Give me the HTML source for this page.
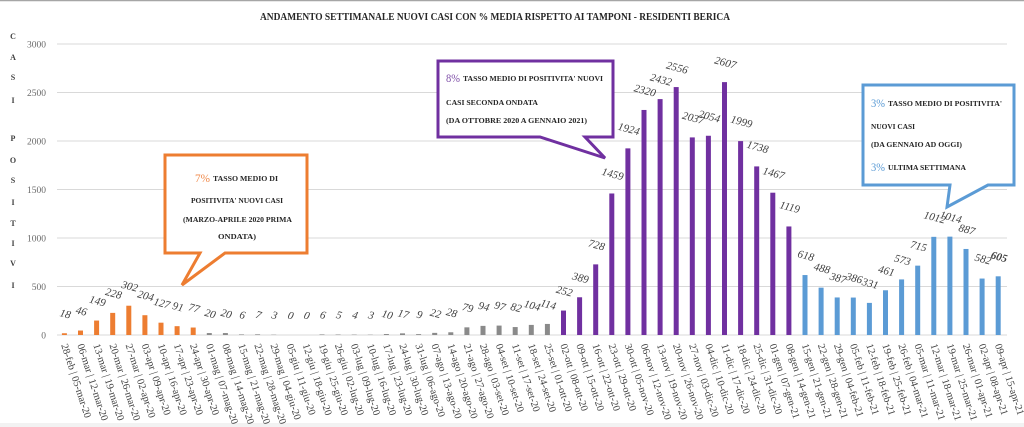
<!DOCTYPE html>
<html><head><meta charset="utf-8"><style>
html,body{margin:0;padding:0;background:#fff;}
svg{display:block;}
.t{font-family:"Liberation Serif",serif;}
.dl{font-family:"Liberation Serif",serif;font-size:11px;fill:#404040;font-style:italic;text-anchor:middle;}
.xl{font-family:"Liberation Serif",serif;font-size:10.3px;fill:#404040;}
.yl{font-family:"Liberation Serif",serif;font-size:9.5px;fill:#6b6b6b;text-anchor:end;}
.ya{font-family:"Liberation Serif",serif;font-size:8px;font-weight:bold;fill:#404040;text-anchor:middle;}
.cb{font-family:"Liberation Serif",serif;font-size:7.5px;font-weight:bold;fill:#262626;}
.pc{font-family:"Liberation Serif",serif;font-size:12px;}
</style></head><body>
<svg width="1024" height="427" viewBox="0 0 1024 427" xmlns="http://www.w3.org/2000/svg">
<rect x="0" y="0" width="1024" height="427" fill="#fff"/>
<line x1="0" y1="0.5" x2="1024" y2="0.5" stroke="#a6a6a6" stroke-width="1.5"/>
<rect x="0" y="423" width="1024" height="4" fill="#f2f2f2"/>

<text class="t" x="260" y="20" font-size="10.5" font-weight="bold" fill="#262626" textLength="470" lengthAdjust="spacingAndGlyphs">ANDAMENTO SETTIMANALE NUOVI CASI CON % MEDIA RISPETTO AI TAMPONI - RESIDENTI BERICA</text>

<!-- gridlines -->
<g stroke="#d9d9d9" stroke-width="1">
<line x1="57" y1="44" x2="1007" y2="44"/>
<line x1="57" y1="92.5" x2="1007" y2="92.5"/>
<line x1="57" y1="141" x2="1007" y2="141"/>
<line x1="57" y1="189.5" x2="1007" y2="189.5"/>
<line x1="57" y1="238" x2="1007" y2="238"/>
<line x1="57" y1="286.5" x2="1007" y2="286.5"/>
<line x1="57" y1="335" x2="1007" y2="335"/>
</g>
<g class="yl">
<text x="46" y="47.5" class="yl">3000</text>
<text x="46" y="96" class="yl">2500</text>
<text x="46" y="144.5" class="yl">2000</text>
<text x="46" y="193" class="yl">1500</text>
<text x="46" y="241.5" class="yl">1000</text>
<text x="46" y="290" class="yl">500</text>
<text x="46" y="338.5" class="yl">0</text>
</g>
<g class="ya">
<text x="13" y="39" class="ya">C</text>
<text x="13" y="60" class="ya">A</text>
<text x="13" y="80" class="ya">S</text>
<text x="13" y="103" class="ya">I</text>
<text x="13" y="141" class="ya">P</text>
<text x="13" y="163" class="ya">O</text>
<text x="13" y="183" class="ya">S</text>
<text x="13" y="205" class="ya">I</text>
<text x="13" y="226" class="ya">T</text>
<text x="13" y="246" class="ya">I</text>
<text x="13" y="266" class="ya">V</text>
<text x="13" y="288" class="ya">I</text>
</g>

<!-- bars -->
<g fill="#ED7D31">
<rect x="61.9" y="333.25" width="5" height="1.75"/>
<rect x="78.0" y="330.54" width="5" height="4.46"/>
<rect x="94.1" y="320.55" width="5" height="14.45"/>
<rect x="110.2" y="312.88" width="5" height="22.12"/>
<rect x="126.3" y="305.71" width="5" height="29.29"/>
<rect x="142.4" y="315.21" width="5" height="19.79"/>
<rect x="158.5" y="322.68" width="5" height="12.32"/>
<rect x="174.6" y="326.17" width="5" height="8.83"/>
<rect x="190.7" y="327.53" width="5" height="7.47"/>
</g>
<g fill="#8a8a8a">
<rect x="206.8" y="333.06" width="5" height="1.94"/>
<rect x="222.9" y="333.06" width="5" height="1.94"/>
<rect x="239.0" y="334.42" width="5" height="0.58"/>
<rect x="255.1" y="334.32" width="5" height="0.68"/>
<rect x="271.2" y="334.71" width="5" height="0.29"/>
<rect x="319.5" y="334.42" width="5" height="0.58"/>
<rect x="335.6" y="334.51" width="5" height="0.49"/>
<rect x="351.7" y="334.61" width="5" height="0.39"/>
<rect x="367.8" y="334.71" width="5" height="0.29"/>
<rect x="383.9" y="334.03" width="5" height="0.97"/>
<rect x="400.0" y="333.35" width="5" height="1.65"/>
<rect x="416.1" y="334.13" width="5" height="0.87"/>
<rect x="432.2" y="332.87" width="5" height="2.13"/>
<rect x="448.3" y="332.28" width="5" height="2.72"/>
<rect x="464.4" y="327.34" width="5" height="7.66"/>
<rect x="480.5" y="325.88" width="5" height="9.12"/>
<rect x="496.6" y="325.59" width="5" height="9.41"/>
<rect x="512.7" y="327.05" width="5" height="7.95"/>
<rect x="528.8" y="324.91" width="5" height="10.09"/>
<rect x="544.9" y="323.94" width="5" height="11.06"/>
</g>
<g fill="#7030A0">
<rect x="561.0" y="310.56" width="5" height="24.44"/>
<rect x="577.1" y="297.27" width="5" height="37.73"/>
<rect x="593.2" y="264.38" width="5" height="70.62"/>
<rect x="609.3" y="193.48" width="5" height="141.52"/>
<rect x="625.4" y="148.37" width="5" height="186.63"/>
<rect x="641.5" y="109.96" width="5" height="225.04"/>
<rect x="657.6" y="99.10" width="5" height="235.90"/>
<rect x="673.7" y="87.07" width="5" height="247.93"/>
<rect x="689.8" y="137.41" width="5" height="197.59"/>
<rect x="705.9" y="135.76" width="5" height="199.24"/>
<rect x="722.0" y="82.12" width="5" height="252.88"/>
<rect x="738.1" y="141.10" width="5" height="193.90"/>
<rect x="754.2" y="166.41" width="5" height="168.59"/>
<rect x="770.3" y="192.70" width="5" height="142.30"/>
<rect x="786.4" y="226.46" width="5" height="108.54"/>
</g>
<g fill="#5B9BD5">
<rect x="802.5" y="275.05" width="5" height="59.95"/>
<rect x="818.6" y="287.66" width="5" height="47.34"/>
<rect x="834.7" y="297.46" width="5" height="37.54"/>
<rect x="850.8" y="297.56" width="5" height="37.44"/>
<rect x="866.9" y="302.89" width="5" height="32.11"/>
<rect x="883.0" y="290.28" width="5" height="44.72"/>
<rect x="899.1" y="279.42" width="5" height="55.58"/>
<rect x="915.2" y="265.64" width="5" height="69.36"/>
<rect x="931.3" y="236.84" width="5" height="98.16"/>
<rect x="947.4" y="236.64" width="5" height="98.36"/>
<rect x="963.5" y="248.96" width="5" height="86.04"/>
<rect x="979.6" y="278.55" width="5" height="56.45"/>
<rect x="995.7" y="276.31" width="5" height="58.69"/>
</g>

<!-- data labels -->
<g>
<text class="dl" transform="translate(64.4 317.3) rotate(15)">18</text>
<text class="dl" transform="translate(80.5 314.5) rotate(15)">46</text>
<text class="dl" transform="translate(96.6 304.5) rotate(15)">149</text>
<text class="dl" transform="translate(112.7 296.9) rotate(15)">228</text>
<text class="dl" transform="translate(128.8 289.7) rotate(15)">302</text>
<text class="dl" transform="translate(144.9 299.2) rotate(15)">204</text>
<text class="dl" transform="translate(161.0 306.7) rotate(15)">127</text>
<text class="dl" transform="translate(177.1 310.2) rotate(15)">91</text>
<text class="dl" transform="translate(193.2 311.5) rotate(15)">77</text>
<text class="dl" transform="translate(209.3 317.1) rotate(15)">20</text>
<text class="dl" transform="translate(225.4 317.1) rotate(15)">20</text>
<text class="dl" transform="translate(241.5 318.4) rotate(15)">6</text>
<text class="dl" transform="translate(257.6 318.3) rotate(15)">7</text>
<text class="dl" transform="translate(273.7 318.7) rotate(15)">3</text>
<text class="dl" transform="translate(289.8 319) rotate(15)">0</text>
<text class="dl" transform="translate(305.9 319) rotate(15)">0</text>
<text class="dl" transform="translate(322.0 318.4) rotate(15)">6</text>
<text class="dl" transform="translate(338.1 318.5) rotate(15)">5</text>
<text class="dl" transform="translate(354.2 318.6) rotate(15)">4</text>
<text class="dl" transform="translate(370.3 318.7) rotate(15)">3</text>
<text class="dl" transform="translate(386.4 318) rotate(15)">10</text>
<text class="dl" transform="translate(402.5 317.4) rotate(15)">17</text>
<text class="dl" transform="translate(418.6 318.1) rotate(15)">9</text>
<text class="dl" transform="translate(434.7 316.9) rotate(15)">22</text>
<text class="dl" transform="translate(450.8 316.3) rotate(15)">28</text>
<text class="dl" transform="translate(466.9 311.3) rotate(15)">79</text>
<text class="dl" transform="translate(483.0 309.9) rotate(15)">94</text>
<text class="dl" transform="translate(499.1 309.6) rotate(15)">97</text>
<text class="dl" transform="translate(515.2 311) rotate(15)">82</text>
<text class="dl" transform="translate(531.3 308.9) rotate(15)">104</text>
<text class="dl" transform="translate(547.4 307.9) rotate(15)">114</text>
<text class="dl" transform="translate(563.5 294.6) rotate(15)">252</text>
<text class="dl" transform="translate(579.6 281.3) rotate(15)">389</text>
<text class="dl" transform="translate(595.7 248.4) rotate(15)">728</text>
<text class="dl" transform="translate(611.8 177.5) rotate(15)">1459</text>
<text class="dl" transform="translate(627.9 132.4) rotate(15)">1924</text>
<text class="dl" transform="translate(644.0 94) rotate(15)">2320</text>
<text class="dl" transform="translate(660.1 83.1) rotate(15)">2432</text>
<text class="dl" transform="translate(676.2 71.1) rotate(15)">2556</text>
<text class="dl" transform="translate(692.3 121.4) rotate(15)">2037</text>
<text class="dl" transform="translate(708.4 119.8) rotate(15)">2054</text>
<text class="dl" transform="translate(724.5 66.1) rotate(15)">2607</text>
<text class="dl" transform="translate(740.6 125.1) rotate(15)">1999</text>
<text class="dl" transform="translate(756.7 150.4) rotate(15)">1738</text>
<text class="dl" transform="translate(772.8 176.7) rotate(15)">1467</text>
<text class="dl" transform="translate(788.9 210.5) rotate(15)">1119</text>
<text class="dl" transform="translate(805.0 259) rotate(15)">618</text>
<text class="dl" transform="translate(821.1 271.7) rotate(15)">488</text>
<text class="dl" transform="translate(837.2 281.5) rotate(15)">387</text>
<text class="dl" transform="translate(853.3 281.6) rotate(15)">386</text>
<text class="dl" transform="translate(869.4 286.9) rotate(15)">331</text>
<text class="dl" transform="translate(885.5 274.3) rotate(15)">461</text>
<text class="dl" transform="translate(901.6 263.4) rotate(15)">573</text>
<text class="dl" transform="translate(917.7 249.6) rotate(15)">715</text>
<text class="dl" transform="translate(933.8 220.8) rotate(15)">1012</text>
<text class="dl" transform="translate(949.9 220.6) rotate(15)">1014</text>
<text class="dl" transform="translate(966.0 233) rotate(15)">887</text>
<text class="dl" transform="translate(982.1 262.5) rotate(15)">582</text>
<text class="dl" transform="translate(998.2 260.3) rotate(15)" font-weight="bold" font-style="normal">605</text>
</g>

<!-- x labels -->
<g class="xl">
<text class="xl" transform="translate(61.1 345) rotate(72)">28-feb | 05-mar-20</text>
<text class="xl" transform="translate(77.2 345) rotate(72)">06-mar | 12-mar-20</text>
<text class="xl" transform="translate(93.3 345) rotate(72)">13-mar | 19-mar-20</text>
<text class="xl" transform="translate(109.4 345) rotate(72)">20-mar | 26-mar-20</text>
<text class="xl" transform="translate(125.5 345) rotate(72)">27-mar | 02-apr-20</text>
<text class="xl" transform="translate(141.6 345) rotate(72)">03-apr | 09-apr-20</text>
<text class="xl" transform="translate(157.7 345) rotate(72)">10-apr | 16-apr-20</text>
<text class="xl" transform="translate(173.8 345) rotate(72)">17-apr | 23-apr-20</text>
<text class="xl" transform="translate(189.9 345) rotate(72)">24-apr | 30-apr-20</text>
<text class="xl" transform="translate(206.0 345) rotate(72)">01-mag | 07-mag-20</text>
<text class="xl" transform="translate(222.1 345) rotate(72)">08-mag | 14-mag-20</text>
<text class="xl" transform="translate(238.2 345) rotate(72)">15-mag | 21-mag-20</text>
<text class="xl" transform="translate(254.3 345) rotate(72)">22-mag | 28-mag-20</text>
<text class="xl" transform="translate(270.4 345) rotate(72)">29-mag | 04-giu-20</text>
<text class="xl" transform="translate(286.5 345) rotate(72)">05-giu | 11-giu-20</text>
<text class="xl" transform="translate(302.6 345) rotate(72)">12-giu | 18-giu-20</text>
<text class="xl" transform="translate(318.7 345) rotate(72)">19-giu | 25-giu-20</text>
<text class="xl" transform="translate(334.8 345) rotate(72)">26-giu | 02-lug-20</text>
<text class="xl" transform="translate(350.9 345) rotate(72)">03-lug | 09-lug-20</text>
<text class="xl" transform="translate(367.0 345) rotate(72)">10-lug | 16-lug-20</text>
<text class="xl" transform="translate(383.1 345) rotate(72)">17-lug | 23-lug-20</text>
<text class="xl" transform="translate(399.2 345) rotate(72)">24-lug | 30-lug-20</text>
<text class="xl" transform="translate(415.3 345) rotate(72)">31-lug | 06-ago-20</text>
<text class="xl" transform="translate(431.4 345) rotate(72)">07-ago | 13-ago-20</text>
<text class="xl" transform="translate(447.5 345) rotate(72)">14-ago | 20-ago-20</text>
<text class="xl" transform="translate(463.6 345) rotate(72)">21-ago | 27-ago-20</text>
<text class="xl" transform="translate(479.7 345) rotate(72)">28-ago | 03-set-20</text>
<text class="xl" transform="translate(495.8 345) rotate(72)">04-set | 10-set-20</text>
<text class="xl" transform="translate(511.9 345) rotate(72)">11-set | 17-set-20</text>
<text class="xl" transform="translate(528.0 345) rotate(72)">18-set | 24-set-20</text>
<text class="xl" transform="translate(544.1 345) rotate(72)">25-set | 01-ott-20</text>
<text class="xl" transform="translate(560.2 345) rotate(72)">02-ott | 08-ott-20</text>
<text class="xl" transform="translate(576.3 345) rotate(72)">09-ott | 15-ott-20</text>
<text class="xl" transform="translate(592.4 345) rotate(72)">16-ott | 22-ott-20</text>
<text class="xl" transform="translate(608.5 345) rotate(72)">23-ott | 29-ott-20</text>
<text class="xl" transform="translate(624.6 345) rotate(72)">30-ott | 05-nov-20</text>
<text class="xl" transform="translate(640.7 345) rotate(72)">06-nov | 12-nov-20</text>
<text class="xl" transform="translate(656.8 345) rotate(72)">13-nov | 19-nov-20</text>
<text class="xl" transform="translate(672.9 345) rotate(72)">20-nov | 26-nov-20</text>
<text class="xl" transform="translate(689.0 345) rotate(72)">27-nov | 03-dic-20</text>
<text class="xl" transform="translate(705.1 345) rotate(72)">04-dic | 10-dic-20</text>
<text class="xl" transform="translate(721.2 345) rotate(72)">11-dic | 17-dic-20</text>
<text class="xl" transform="translate(737.3 345) rotate(72)">18-dic | 24-dic-20</text>
<text class="xl" transform="translate(753.4 345) rotate(72)">25-dic | 31-dic-20</text>
<text class="xl" transform="translate(769.5 345) rotate(72)">01-gen | 07-gen-21</text>
<text class="xl" transform="translate(785.6 345) rotate(72)">08-gen | 14-gen-21</text>
<text class="xl" transform="translate(801.7 345) rotate(72)">15-gen | 21-gen-21</text>
<text class="xl" transform="translate(817.8 345) rotate(72)">22-gen | 28-gen-21</text>
<text class="xl" transform="translate(833.9 345) rotate(72)">29-gen | 04-feb-21</text>
<text class="xl" transform="translate(850.0 345) rotate(72)">05-feb | 11-feb-21</text>
<text class="xl" transform="translate(866.1 345) rotate(72)">12-feb | 18-feb-21</text>
<text class="xl" transform="translate(882.2 345) rotate(72)">19-feb | 25-feb-21</text>
<text class="xl" transform="translate(898.3 345) rotate(72)">26-feb | 04-mar-21</text>
<text class="xl" transform="translate(914.4 345) rotate(72)">05-mar | 11-mar-21</text>
<text class="xl" transform="translate(930.5 345) rotate(72)">12-mar | 18-mar-21</text>
<text class="xl" transform="translate(946.6 345) rotate(72)">19-mar | 25-mar-21</text>
<text class="xl" transform="translate(962.7 345) rotate(72)">26-mar | 01-apr-21</text>
<text class="xl" transform="translate(978.8 345) rotate(72)">02-apr | 08-apr-21</text>
<text class="xl" transform="translate(994.9 345) rotate(72)">09-apr | 15-apr-21</text>
</g>

<!-- callout orange -->
<path d="M165,155 H307 V253 H225 L182,285 L200,253 H165 Z" fill="#fff" stroke="#ED7D31" stroke-width="3" stroke-linejoin="miter"/>
<text class="pc" x="195" y="182" fill="#F08A4B" textLength="15" lengthAdjust="spacingAndGlyphs">7%</text>
<text class="cb" x="213" y="181" textLength="65" lengthAdjust="spacingAndGlyphs">TASSO MEDIO DI</text>
<text class="cb" x="191" y="203" textLength="92" lengthAdjust="spacingAndGlyphs">POSITIVITA' NUOVI CASI</text>
<text class="cb" x="183" y="222" textLength="109" lengthAdjust="spacingAndGlyphs">(MARZO-APRILE 2020 PRIMA</text>
<text class="cb" x="218" y="239" textLength="38" lengthAdjust="spacingAndGlyphs">ONDATA)</text>

<!-- callout purple -->
<path d="M438,61 H613 V137 H585 L605,158 L540,137 H438 Z" fill="#fff" stroke="#7030A0" stroke-width="3" stroke-linejoin="miter"/>
<text class="pc" x="446" y="82" fill="#7F4FA8" textLength="14" lengthAdjust="spacingAndGlyphs">8%</text>
<text class="cb" x="463" y="81" textLength="140" lengthAdjust="spacingAndGlyphs">TASSO MEDIO DI POSITIVITA' NUOVI</text>
<text class="cb" x="446" y="105" textLength="92" lengthAdjust="spacingAndGlyphs">CASI SECONDA ONDATA</text>
<text class="cb" x="446" y="123" textLength="141" lengthAdjust="spacingAndGlyphs">(DA OTTOBRE 2020 A GENNAIO 2021)</text>

<!-- callout blue -->
<path d="M863,85 H1014 V185 H988 L947,207 L950,185 H863 Z" fill="#fff" stroke="#5B9BD5" stroke-width="3" stroke-linejoin="miter"/>
<text class="pc" x="871" y="107" fill="#5B9BD5" textLength="14" lengthAdjust="spacingAndGlyphs">3%</text>
<text class="cb" x="888" y="106" textLength="114" lengthAdjust="spacingAndGlyphs">TASSO MEDIO DI POSITIVITA'</text>
<text class="cb" x="871" y="129" textLength="44" lengthAdjust="spacingAndGlyphs">NUOVI CASI</text>
<text class="cb" x="871" y="147" textLength="91" lengthAdjust="spacingAndGlyphs">(DA GENNAIO AD OGGI)</text>
<text class="pc" x="871" y="171" fill="#5B9BD5" textLength="14" lengthAdjust="spacingAndGlyphs">3%</text>
<text class="cb" x="888" y="170" textLength="78" lengthAdjust="spacingAndGlyphs">ULTIMA SETTIMANA</text>
</svg>
</body></html>
